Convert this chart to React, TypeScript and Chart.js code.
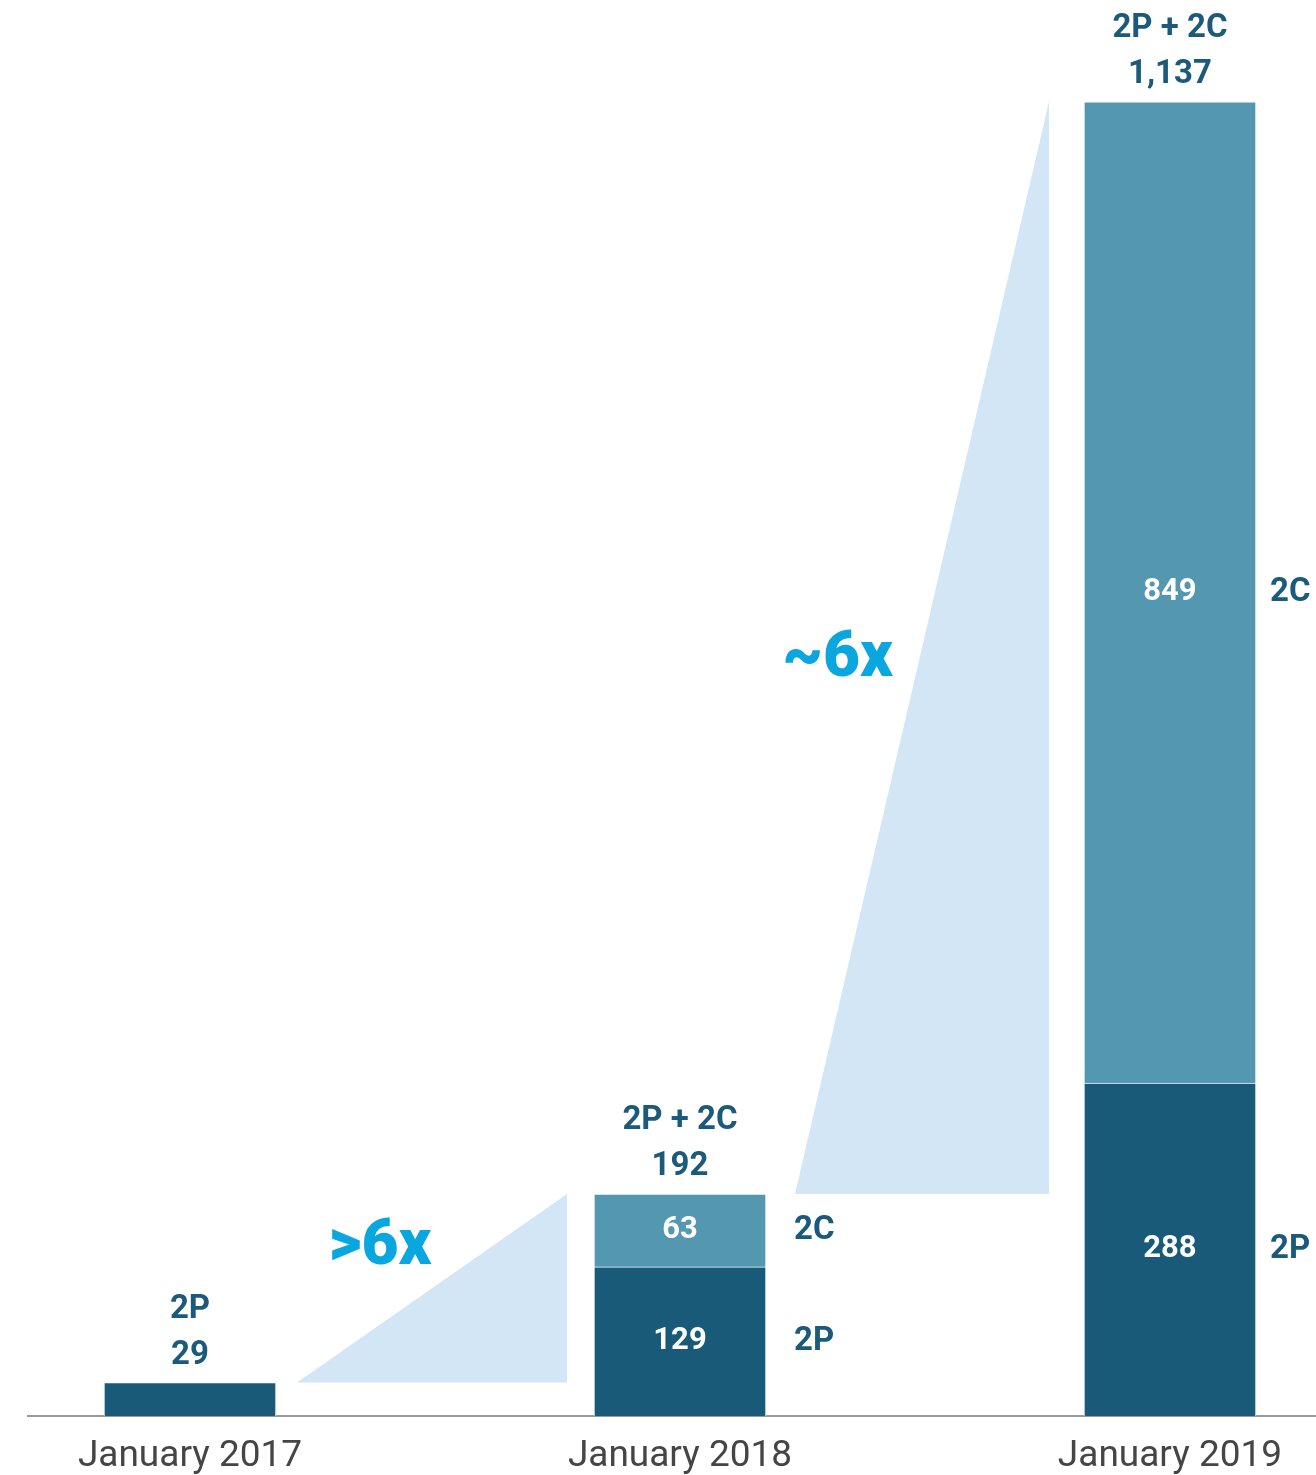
import React, { useEffect, useRef } from "react";
import { Chart, registerables } from "chart.js";

Chart.register(...registerables);

const categories = ["January 2017", "January 2018", "January 2019"];
const categoryPositions = [0, 1, 2];
const values2P = [29, 129, 288];
const values2C: (number | null)[] = [null, 63, 849];
const topLabels = ["2P", "2P + 2C", "2P + 2C"];
const totalLabels = ["29", "192", "1,137"];
const multiplierLabels = [">6x", "~6x"];
// anchor of the multiplier labels in data coordinates (x position, y value)
const multiplierAnchorX = [0.388, 1.322];
const multiplierAnchorY = [145, 654];

const totals = values2P.map((v, i) => v + (values2C[i] ?? 0));

const DARK = "#185a78";
const LIGHT = "#5397b0";
const TEXT = "#1b5a7a";
const CYAN = "#0aa6e0";
const WEDGE = "#d3e6f6";
const BAR_W = 172;

const overlayPlugin = {
  id: "overlay",
  beforeDatasetsDraw(chart: any) {
    const { ctx, scales } = chart;
    const x = scales.x;
    const y = scales.y;
    const half = BAR_W / 2;
    const cx = categoryPositions.map((p) => x.getPixelForValue(p));
    const tops = totals.map((t) => y.getPixelForValue(t));
    ctx.save();
    ctx.fillStyle = WEDGE;
    ctx.beginPath();
    ctx.moveTo(cx[0] + half + 21, tops[0]);
    ctx.lineTo(cx[1] - half - 27, tops[1]);
    ctx.lineTo(cx[1] - half - 27, tops[0]);
    ctx.closePath();
    ctx.fill();
    ctx.beginPath();
    ctx.moveTo(cx[1] + half + 29, tops[1]);
    ctx.lineTo(cx[2] - half - 35, tops[2]);
    ctx.lineTo(cx[2] - half - 35, tops[1]);
    ctx.closePath();
    ctx.fill();
    ctx.restore();
  },
  afterDatasetsDraw(chart: any) {
    const { ctx, scales } = chart;
    const x = scales.x;
    const y = scales.y;
    const half = BAR_W / 2;
    const cx = categoryPositions.map((p) => x.getPixelForValue(p));
    const tops = totals.map((t) => y.getPixelForValue(t));
    const base = y.getPixelForValue(0);
    ctx.save();
    ctx.textAlign = "center";
    ctx.textBaseline = "middle";
    // labels above bars
    ctx.fillStyle = TEXT;
    ctx.font = "700 33px Roboto";
    categoryPositions.forEach((_, i) => {
      ctx.fillText(topLabels[i], cx[i], tops[i] - 73);
      ctx.fillText(totalLabels[i], cx[i], tops[i] - 27);
    });
    // values inside segments + side labels
    const sideOffset = [26, 28, 14];
    categoryPositions.forEach((_, i) => {
      const p = values2P[i];
      const c = values2C[i];
      if (c == null) return;
      const pTop = y.getPixelForValue(p);
      const cTop = y.getPixelForValue(p + c);
      ctx.textAlign = "center";
      ctx.fillStyle = "#ffffff";
      ctx.font = "700 31px Roboto";
      ctx.fillText(String(p), cx[i], (pTop + base) / 2);
      ctx.fillText(String(c), cx[i], (cTop + pTop) / 2);
      ctx.textAlign = "left";
      ctx.fillStyle = TEXT;
      ctx.font = "700 33px Roboto";
      ctx.fillText("2P", cx[i] + half + sideOffset[i], (pTop + base) / 2);
      ctx.fillText("2C", cx[i] + half + sideOffset[i], (cTop + pTop) / 2);
    });
    // multipliers
    ctx.textAlign = "center";
    ctx.fillStyle = CYAN;
    ctx.font = "900 64px Roboto";
    multiplierLabels.forEach((t, i) => {
      ctx.fillText(t, x.getPixelForValue(multiplierAnchorX[i]), y.getPixelForValue(multiplierAnchorY[i]));
    });
    ctx.restore();
  },
};

export default function App() {
  const ref = useRef<HTMLCanvasElement | null>(null);
  useEffect(() => {
    if (!ref.current) return;
    const chart = new Chart(ref.current, {
      type: "bar",
      data: {
        datasets: [
          {
            label: "2P",
            data: categoryPositions.map((p, i) => ({ x: p, y: values2P[i] })),
            backgroundColor: DARK,
            borderColor: "#ffffff",
            borderWidth: 1,
            barThickness: BAR_W,
          },
          {
            label: "2C",
            data: categoryPositions.map((p, i) => ({ x: p, y: values2C[i] })),
            backgroundColor: LIGHT,
            borderColor: "#ffffff",
            borderWidth: 1,
            barThickness: BAR_W,
          },
        ],
      },
      options: {
        animation: false,
        responsive: false,
        maintainAspectRatio: false,
        layout: { padding: { left: 28, right: 0, top: 0, bottom: 0 } },
        plugins: { legend: { display: false }, tooltip: { enabled: false } },
        scales: {
          x: {
            type: "linear",
            stacked: true,
            offset: false,
            min: -0.3306,
            max: 2.298,
            afterBuildTicks: (scale: any) => {
              scale.ticks = categoryPositions.map((v) => ({ value: v }));
            },
            afterFit: (scale: any) => {
              scale.height = 59;
            },
            ticks: {
              autoSkip: false,
              maxRotation: 0,
              padding: 19,
              color: "#454545",
              font: { family: "Roboto", size: 37 },
              callback: (v: any) => categories[Math.round(Number(v))] ?? "",
            },
            grid: { display: true, offset: false, color: "rgba(0,0,0,0)", drawTicks: false },
            border: { display: true, color: "#9a9a9a", width: 2 },
          },
          y: {
            stacked: true,
            display: false,
            min: 0,
            max: 1225,
          },
        },
      },
      plugins: [overlayPlugin],
    } as any);
    return () => chart.destroy();
  }, []);
  return (
    <div style={{ position: "absolute", left: 0, top: 0, width: 1316, height: 1475 }}>
      <canvas ref={ref} width={1316} height={1475} />
    </div>
  );
}
